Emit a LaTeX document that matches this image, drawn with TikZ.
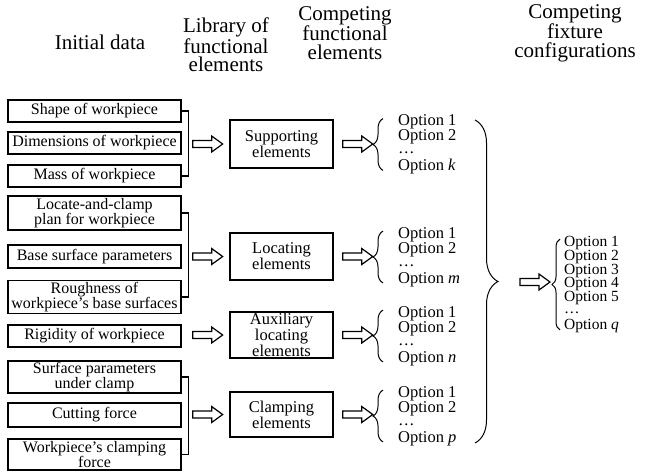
\documentclass[tikz,border=0pt]{standalone}
\usepackage{fontspec}
\setmainfont{Liberation Serif}
\usetikzlibrary{decorations.pathreplacing,calc}
\tikzset{
  inbox/.style={draw, line width=1.3pt, minimum width=173pt, inner sep=1pt, align=center, font=\fontsize{16}{14}\selectfont},
  libbox/.style={draw, line width=1.5pt, minimum width=103pt, inner sep=1pt, align=center, font=\fontsize{16.5}{14.5}\selectfont},
  hdr/.style={align=center, font=\fontsize{21}{18.5}\selectfont, inner sep=0pt},
  optlist/.style={align=left, anchor=west, inner sep=0pt, font=\fontsize{16.5}{15}\selectfont},
  finlist/.style={align=left, anchor=west, inner sep=0pt, font=\fontsize{15.5}{13.8}\selectfont},
  bracketline/.style={line width=1.3pt},
  optbrace/.style={decorate, decoration={brace, amplitude=10pt}, line width=1pt},
  bigbrace/.style={decorate, decoration={brace, amplitude=23pt}, line width=1pt},
  harrow/.pic={\draw[line width=1.2pt, line join=miter] (0,-3.5) -- (19,-3.5) -- (19,-8) -- (30,0) -- (19,8) -- (19,3.5) -- (0,3.5) -- cycle;}
}
\newcommand{\optdots}{\raisebox{2pt}{\dots}}
\begin{document}
\begin{tikzpicture}[x=1pt,y=-1pt]
\useasboundingbox (0,0) rectangle (648,472);
% headers
\node[hdr] (h1) at (100,42) {Initial data};
\node[hdr] (h2) at (226,45) {Library of\\functional\\elements};
\node[hdr] (h3) at (345,33) {Competing\\functional\\elements};
\node[hdr] (h4) at (575,33) {Competing\\fixture\\configurations};
% initial data boxes
\node[inbox, minimum height=22pt] (i1) at (94.5,111) {Shape of workpiece};
\node[inbox, minimum height=22pt] (i2) at (94.5,143) {Dimensions of workpiece};
\node[inbox, minimum height=22pt] (i3) at (94.5,176) {Mass of workpiece};
\node[inbox, minimum height=34pt] (i4) at (94.5,213) {Locate-and-clamp\\plan for workpiece};
\node[inbox, minimum height=23pt] (i5) at (94.5,256.5) {Base surface parameters};
\node[inbox, minimum height=32pt] (i6) at (94.5,297) {Roughness of\\workpiece's base surfaces};
\node[inbox, minimum height=22pt] (i7) at (94.5,336) {Rigidity of workpiece};
\node[inbox, minimum height=32pt] (i8) at (94.5,377) {Surface parameters\\under clamp};
\node[inbox, minimum height=24pt] (i9) at (94.5,415) {Cutting force};
\node[inbox, minimum height=31pt] (i10) at (94.5,454.5) {Workpiece's clamping\\force};
% library boxes
\node[libbox, minimum height=48pt] (l1) at (281.5,144) {Supporting\\elements};
\node[libbox, minimum height=47pt] (l2) at (281.5,256.5) {Locating\\elements};
\node[libbox, minimum height=46pt] (l3) at (281.5,335) {Auxiliary\\locating\\elements};
\node[libbox, minimum height=45pt] (l4) at (281.5,414.5) {Clamping\\elements};
% brackets
\draw[bracketline] (i1.east) -- ++(7,0) coordinate (b1) |- (i3.east);
\draw[bracketline] (i4.east) -- ++(7,0) coordinate (b2) |- (i6.east);
\draw[bracketline] (i8.east) -- ++(7,0) coordinate (b4) |- (i10.east);
% arrows to library
\pic at ($(b1 |- l1.west)+(4,0)$) {harrow};
\pic at ($(b2 |- l2.west)+(4,0)$) {harrow};
\pic at ($(b1 |- l3.west)+(4,0)$) {harrow};
\pic at ($(b4 |- l4.west)+(4,0)$) {harrow};
% arrows to options
\pic at ($(l1.east)+(9,0)$) {harrow};
\pic at ($(l2.east)+(9,0)$) {harrow};
\pic at ($(l3.east)+(9,0)$) {harrow};
\pic at ($(l4.east)+(9,0)$) {harrow};
% option lists
\node[optlist] (o1) at (398,144.5) {Option 1\\Option 2\\\optdots\\Option \textit{k}};
\node[optlist] (o2) at (398,257) {Option 1\\Option 2\\\optdots\\Option \textit{m}};
\node[optlist] (o3) at (398,336) {Option 1\\Option 2\\\optdots\\Option \textit{n}};
\node[optlist] (o4) at (398,416) {Option 1\\Option 2\\\optdots\\Option \textit{p}};
\foreach \o in {o1,o2,o3,o4}{
  \draw[optbrace] ($(\o.south west)+(-15,-4)$) -- ($(\o.north west)+(-15,4)$);
}
% big brace
\coordinate (bt) at (475,120);
\coordinate (bb) at (475,443);
\draw[bigbrace] (bt) -- (bb);
% final arrow and list
\pic at (520,282) {harrow};
\node[finlist] (f) at (564,284.5) {Option 1\\Option 2\\Option 3\\Option 4\\Option 5\\\optdots\\Option \textit{q}};
\draw[optbrace, decoration={amplitude=8pt}] ($(f.south west)+(-4,-3)$) -- ($(f.north west)+(-4,3)$);
\end{tikzpicture}
\end{document}
